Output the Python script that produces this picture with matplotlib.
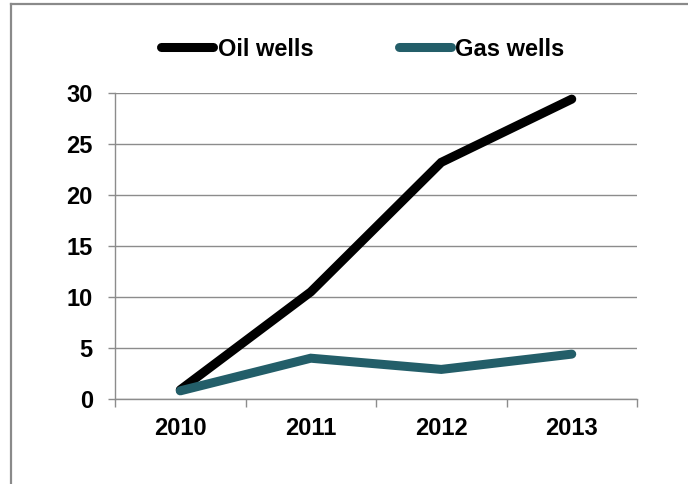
"""Oil vs gas wells, 2010-2013."""
import matplotlib
matplotlib.use("Agg")
import matplotlib.pyplot as plt
from matplotlib.lines import Line2D

years = ["2010", "2011", "2012", "2013"]
oil_wells = [0.9, 10.5, 23.2, 29.4]
gas_wells = [0.8, 4.0, 2.9, 4.4]
y_ticks = [0, 5, 10, 15, 20, 25, 30]

plt.rcParams["font.family"] = ["Liberation Sans", "DejaVu Sans"]
plt.rcParams["font.weight"] = "bold"

W, H = 688, 484
fig = plt.figure(figsize=(W / 100, H / 100), dpi=100)
ax = fig.add_axes([115 / W, 85 / H, (637 - 115) / W, (399 - 93) / H])

x = list(range(len(years)))
ax.plot(x, oil_wells, color="black", lw=6.5, solid_capstyle="round",
        solid_joinstyle="miter", label="Oil wells", zorder=3)
ax.plot(x, gas_wells, color="#235e69", lw=6.5, solid_capstyle="round",
        solid_joinstyle="miter", label="Gas wells", zorder=3)

ax.set_xlim(-0.5, len(years) - 0.5)
ax.set_ylim(0, 30)
ax.set_yticks(y_ticks)
ax.yaxis.grid(True, color="#8c8c8c", lw=1.0)
ax.set_axisbelow(True)

# category boundaries get the tick marks, labels sit in the middle
ax.set_xticks([i - 0.5 for i in range(len(years) + 1)])
ax.set_xticklabels([])
ax.set_xticks(x, minor=True)
ax.set_xticklabels(years, minor=True, fontsize=17, fontweight="bold")
ax.tick_params(axis="x", which="major", length=6, width=1, color="#8c8c8c",
               direction="out")
ax.tick_params(axis="x", which="minor", length=0, pad=13)
ax.tick_params(axis="y", length=5, width=1, color="#8c8c8c", pad=11,
               labelsize=17)
for lab in ax.get_yticklabels():
    lab.set_fontweight("bold")

for side in ("top", "right"):
    ax.spines[side].set_visible(False)
for side in ("left", "bottom"):
    ax.spines[side].set_color("#8c8c8c")
    ax.spines[side].set_linewidth(1.0)

fig.legend(loc="center", bbox_to_anchor=(363 / W, 1 - 49 / H), ncol=2,
           frameon=False, handlelength=2.2, handletextpad=0.2,
           columnspacing=3.6, prop={"weight": "bold", "size": 17})

# outer chart border (only top and left edges visible in the crop)
fig.add_artist(Line2D([10.5 / W, 1], [1 - 4 / H, 1 - 4 / H],
                      transform=fig.transFigure, color="#8a8a8a", lw=1.6))
fig.add_artist(Line2D([10.5 / W, 10.5 / W], [0, 1 - 4 / H],
                      transform=fig.transFigure, color="#8a8a8a", lw=1.6))

fig.savefig("out.png", dpi=100)
